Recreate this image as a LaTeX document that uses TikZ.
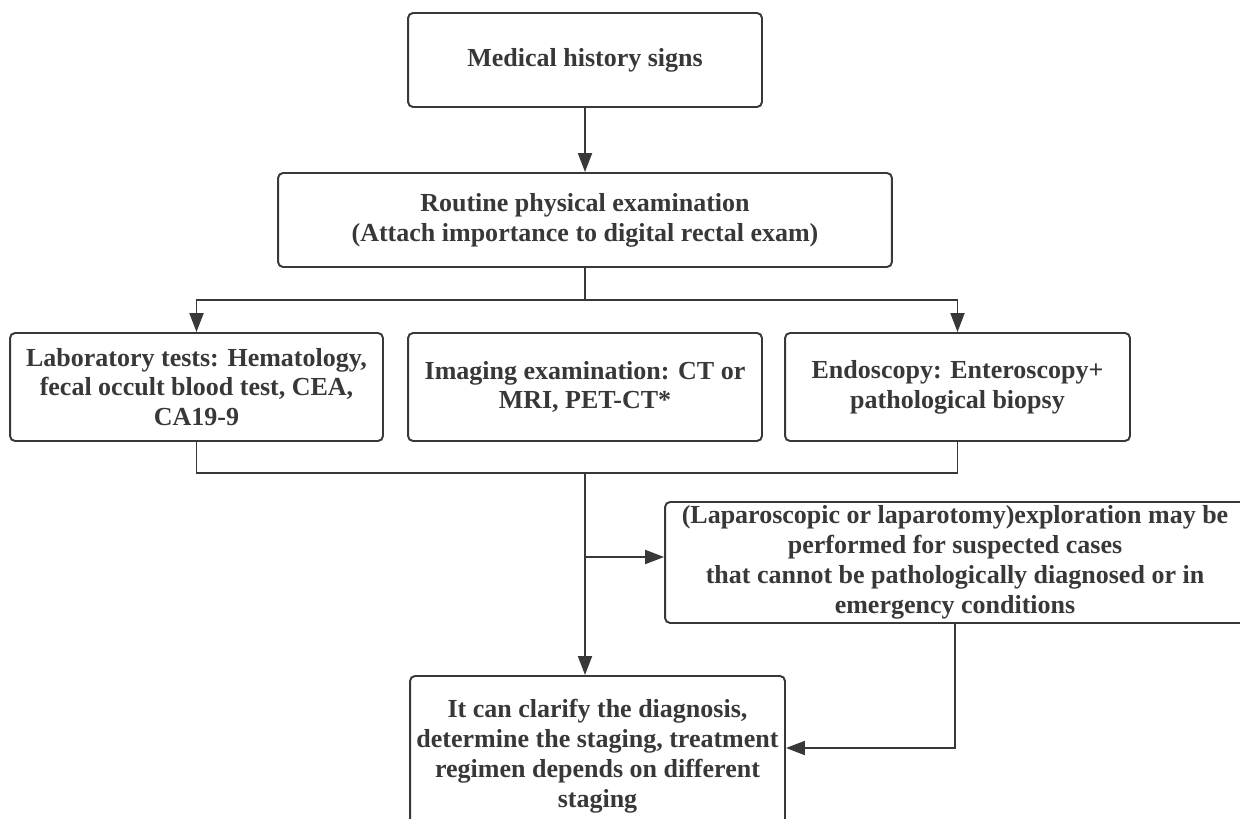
\documentclass[tikz,border=0pt]{standalone}
\usepackage{fontspec}
\setmainfont{Liberation Serif}
\usetikzlibrary{arrows.meta,positioning}
\definecolor{ink}{HTML}{383838}

\tikzset{
  box/.style={draw=ink, line width=1.1pt, rounded corners=0.1cm, fill=white,
    align=center, text=ink, inner sep=0pt,
    font=\fontsize{14.8}{17}\selectfont\bfseries},
  link/.style={draw=ink, line width=1.1pt},
  arr/.style={link, -{Triangle[length=0.38cm,width=0.28cm]}},
}

\begin{document}
\begin{tikzpicture}[x=0.02cm, y=-0.02cm]
    \clip (0,0) rectangle (1240,818);
    % Draw the boxes
    \node[box, minimum width=7.08cm, minimum height=1.88cm] (hist) at (585,60) {Medical history signs};
    \node[box, minimum width=12.28cm, minimum height=1.88cm] (exam) at (585,220)
        {Routine physical examination\\(Attach importance to digital rectal exam)};
    \node[box, minimum width=7.46cm, minimum height=2.16cm] (lab) at (196.5,387)
        {Laboratory tests: Hematology,\\fecal occult blood test, CEA,\\CA19-9};
    \node[box, minimum width=7.08cm, minimum height=2.16cm] (img) at (585,387)
        {Imaging examination: CT or\\MRI, PET-CT*};
    \node[box, minimum width=6.9cm, minimum height=2.16cm] (endo) at (957.5,387)
        {Endoscopy: Enteroscopy+\\pathological biopsy};
    \node[box, minimum width=11.6cm, minimum height=2.42cm] (explore) at (955,562.5)
        {(Laparoscopic or laparotomy)exploration may be\\performed for suspected cases\\that cannot be pathologically diagnosed or in\\emergency conditions};
    \node[box, anchor=north, minimum width=7.5cm, minimum height=3.2cm] (result) at (597.5,675)
        {It can clarify the diagnosis,\\determine the staging, treatment\\regimen depends on different\\staging};
    % Branch and merge points
    \coordinate (split) at (585,300);
    \coordinate (merge) at (585,473);
    \coordinate (tap) at (585,557);
    % Draw the connectors
    \draw[arr] (hist) -- (exam);
    \draw[link] (exam) -- (split);
    \foreach \b in {lab,endo} {
        \draw[arr] (split) -| (\b.north);
        \draw[link] (\b.south) |- (merge);
    }
    \draw[arr] (merge) -- (merge |- result.north);
    \draw[arr] (tap) -- (explore.west |- tap);
    \draw[arr] (explore.south) |- (result.east |- 0,748);
\end{tikzpicture}
\end{document}
